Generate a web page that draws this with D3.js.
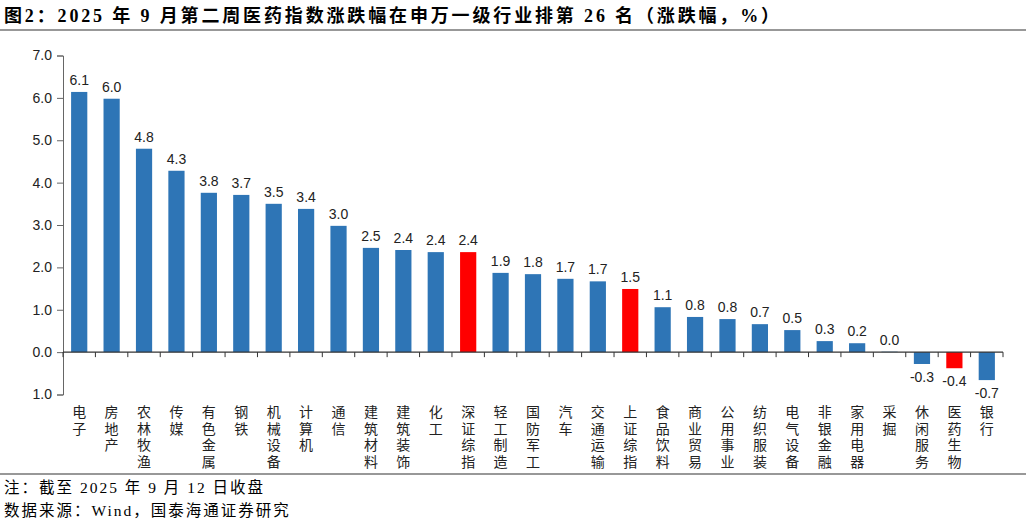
<!DOCTYPE html>
<html>
<head>
<meta charset="utf-8">
<script src="https://cdn.jsdelivr.net/npm/d3@7"></script>
<style>
  body { margin: 0; background: #fff; }
  svg { display: block; }
</style>
</head>
<body>
<svg id="chart" width="1032" height="524"></svg>
<script>
// categories and weekly change (%)
const categories = ["电子", "房地产", "农林牧渔", "传媒", "有色金属", "钢铁", "机械设备", "计算机", "通信",
    "建筑材料", "建筑装饰", "化工", "深证综指", "轻工制造", "国防军工", "汽车", "交通运输", "上证综指",
    "食品饮料", "商业贸易", "公用事业", "纺织服装", "电气设备", "非银金融", "家用电器", "采掘",
    "休闲服务", "医药生物", "银行"];
const values = [6.14, 5.98, 4.80, 4.28, 3.76, 3.71, 3.50, 3.38, 2.98,
    2.46, 2.41, 2.36, 2.36, 1.87, 1.84, 1.73, 1.67, 1.49,
    1.06, 0.83, 0.78, 0.66, 0.52, 0.26, 0.21, 0.01,
    -0.28, -0.38, -0.66];
const highlighted = ["深证综指", "上证综指", "医药生物"];
const yTicks = [-1, 0, 1, 2, 3, 4, 5, 6, 7];

const title = "图2：2025 年 9 月第二周医药指数涨跌幅在申万一级行业排第 26 名（涨跌幅，%）";
const notes = ["注：截至 2025 年 9 月 12 日收盘", "数据来源：Wind，国泰海通证券研究"];

let width = 1032,
    height = 524,
    margins = {top: 56, bottom: 130, left: 63, right: 29};

const svg = d3.select("#chart");
const serif = "'Liberation Serif', 'Noto Sans CJK SC', serif";
const sans = "Arial, 'Liberation Sans', sans-serif";

// title + rules
svg.append("text")
    .attr("x", 4).attr("y", 22)
    .attr("font-family", serif)
    .attr("font-size", 18)
    .attr("font-weight", "bold")
    .attr("letter-spacing", 2.85)
    .text(title);
svg.append("line").attr("x1", 0).attr("x2", 1026).attr("y1", 30).attr("y2", 30)
    .attr("stroke", "#333").attr("stroke-width", 1.2);
svg.append("line").attr("x1", 0).attr("x2", 1026).attr("y1", 474).attr("y2", 474)
    .attr("stroke", "#333").attr("stroke-width", 1.2);

notes.forEach((t, i) => {
    svg.append("text")
        .attr("x", 4).attr("y", 493 + i * 23)
        .attr("font-family", serif)
        .attr("font-size", 15.5)
        .attr("letter-spacing", 2)
        .text(t);
});

let x = d3.scaleBand()
    .domain(categories)
    .range([margins.left, width - margins.right])
    .paddingInner(0.5)
    .paddingOuter(0.25);

let y = d3.scaleLinear()
    .domain([-1, 7])
    .range([394.5, 55.5]);

// bars
svg.append("g")
    .selectAll("rect")
    .data(categories)
    .enter()
    .append("rect")
    .attr("x", d => x(d))
    .attr("width", x.bandwidth())
    .attr("y", (d, i) => y(Math.max(0, values[i])))
    .attr("height", (d, i) => Math.abs(y(values[i]) - y(0)))
    .attr("fill", d => highlighted.includes(d) ? "#FF0000" : "#2E75B6");

// value labels
svg.append("g")
    .selectAll("text")
    .data(categories)
    .enter()
    .append("text")
    .attr("x", d => x(d) + x.bandwidth() / 2)
    .attr("y", (d, i) => values[i] >= 0 ? y(values[i]) - 7 : y(values[i]) + 18)
    .attr("text-anchor", "middle")
    .attr("font-family", sans)
    .attr("font-size", 14)
    .attr("fill", "#222")
    .text((d, i) => values[i].toFixed(1));

// y axis
let y_axis = d3.axisLeft(y)
    .tickValues(yTicks)
    .tickSize(6)
    .tickFormat(d => Math.abs(d).toFixed(1));
let gy = svg.append("g")
    .attr("transform", `translate(${margins.left},0)`)
    .call(y_axis);
gy.select(".domain").attr("stroke", "#666");
gy.selectAll(".tick line").attr("stroke", "#666");
gy.selectAll(".tick text")
    .attr("font-family", sans)
    .attr("font-size", 14)
    .attr("fill", "#222")
    .attr("x", -11);

// zero line with category boundary ticks
let step = x.step();
let boundaries = d3.range(categories.length + 1).map(i => margins.left + i * step);
let gz = svg.append("g");
gz.append("line")
    .attr("x1", margins.left).attr("x2", width - margins.right)
    .attr("y1", y(0)).attr("y2", y(0))
    .attr("stroke", "#333").attr("stroke-width", 1.2);
gz.selectAll(".bt")
    .data(boundaries)
    .enter()
    .append("line")
    .attr("x1", d => d).attr("x2", d => d)
    .attr("y1", y(0)).attr("y2", y(0) + 5)
    .attr("stroke", "#333");

// vertical category labels
let gl = svg.append("g");
categories.forEach(c => {
    let t = gl.append("text")
        .attr("font-family", serif)
        .attr("font-size", 14)
        .attr("fill", "#222")
        .attr("text-anchor", "middle");
    Array.from(c).forEach((ch, j) => {
        t.append("tspan")
            .attr("x", x(c) + x.bandwidth() / 2)
            .attr("y", 417 + j * 16.5)
            .text(ch);
    });
});
</script>
</body>
</html>
